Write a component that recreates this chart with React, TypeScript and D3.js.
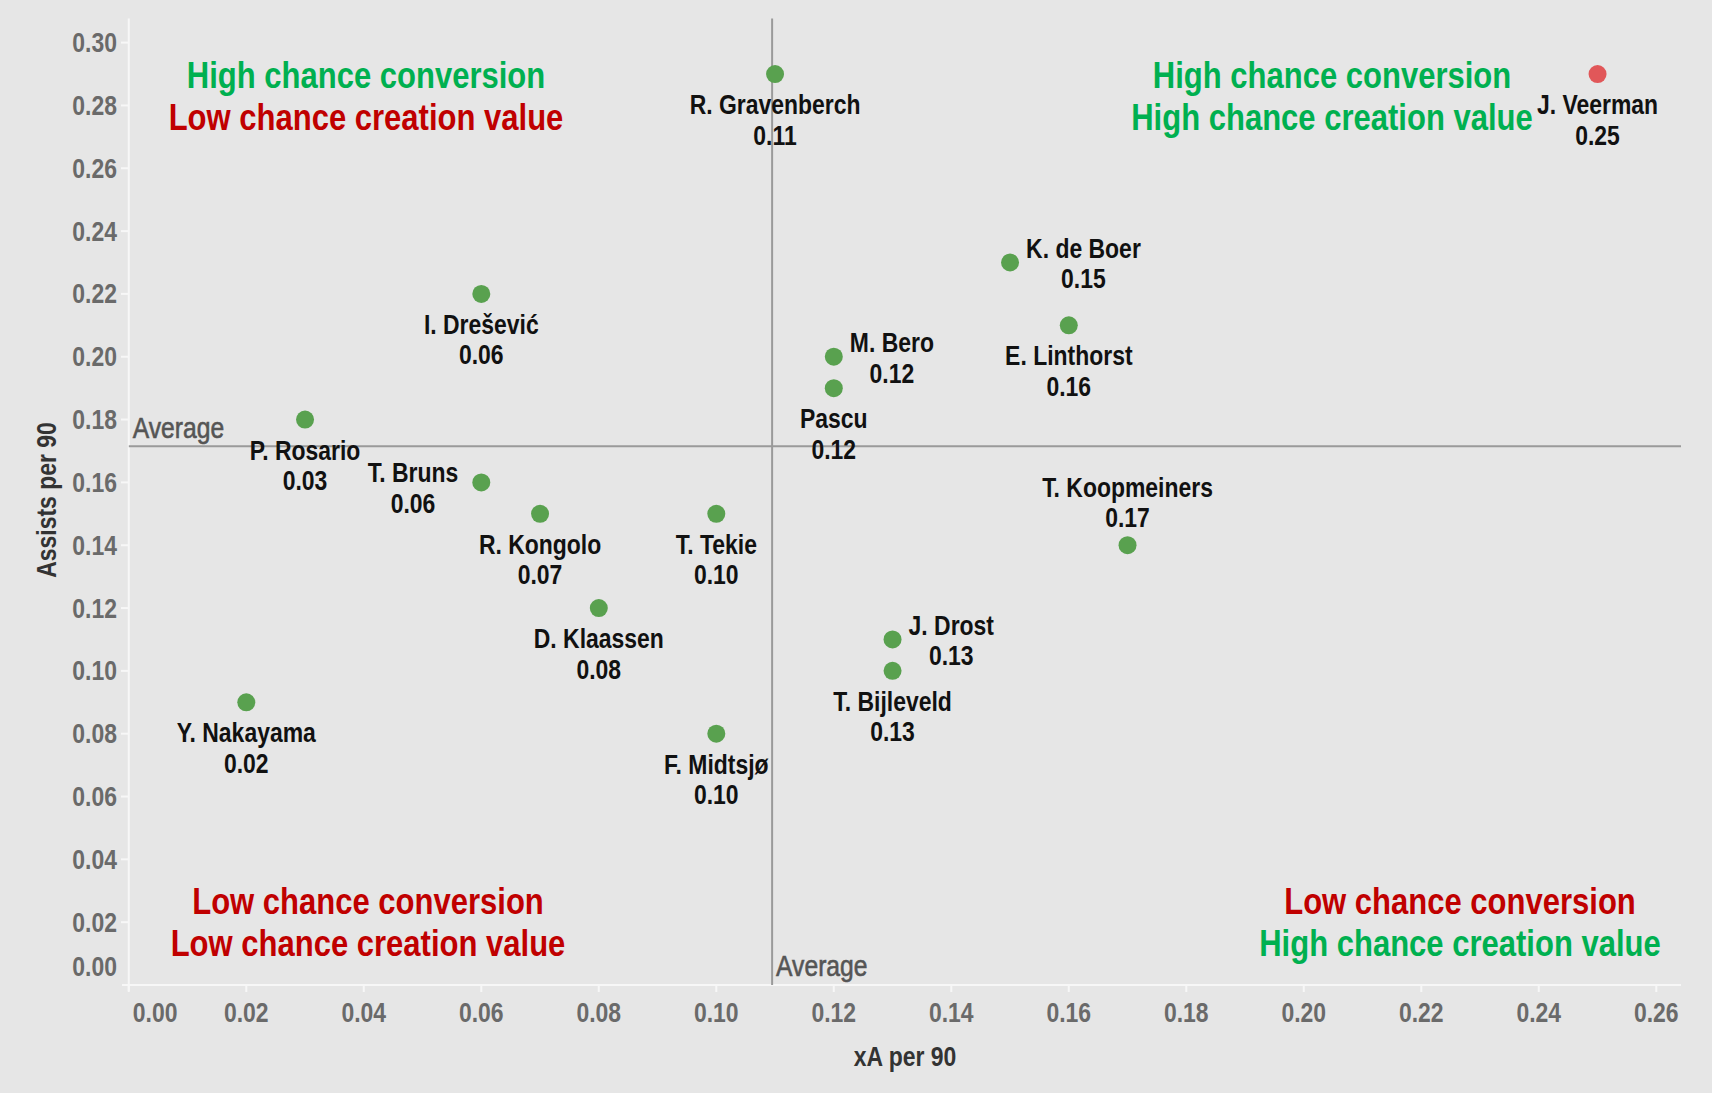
import React, { useEffect, useRef } from "react";
import * as d3 from "d3";

const players = ["R. Gravenberch", "J. Veerman", "K. de Boer", "I. Drešević", "E. Linthorst", "M. Bero", "Pascu", "P. Rosario", "T. Bruns", "R. Kongolo", "T. Tekie", "T. Koopmeiners", "D. Klaassen", "J. Drost", "T. Bijleveld", "Y. Nakayama", "F. Midtsjø"];
const xAPer90 = [0.11, 0.25, 0.15, 0.06, 0.16, 0.12, 0.12, 0.03, 0.06, 0.07, 0.10, 0.17, 0.08, 0.13, 0.13, 0.02, 0.10];
const assistsPer90 = [0.29, 0.29, 0.23, 0.22, 0.21, 0.20, 0.19, 0.18, 0.16, 0.15, 0.15, 0.14, 0.12, 0.11, 0.10, 0.09, 0.08];
const highlighted = ["J. Veerman"];
const labelSide: Record<string, string> = {
  "K. de Boer": "right",
  "M. Bero": "right",
  "J. Drost": "right",
  "T. Bruns": "left",
  "T. Koopmeiners": "above",
};
const xTicks = [0, 0.02, 0.04, 0.06, 0.08, 0.1, 0.12, 0.14, 0.16, 0.18, 0.2, 0.22, 0.24, 0.26];
const yTicks = [0, 0.02, 0.04, 0.06, 0.08, 0.1, 0.12, 0.14, 0.16, 0.18, 0.2, 0.22, 0.24, 0.26, 0.28, 0.3];
const avgXA = 0.1095;
const avgAssists = 0.1715;
const quadrants = [
  { key: "tl", lines: [["High chance conversion", "g"], ["Low chance creation value", "r"]] },
  { key: "tr", lines: [["High chance conversion", "g"], ["High chance creation value", "g"]] },
  { key: "bl", lines: [["Low chance conversion", "r"], ["Low chance creation value", "r"]] },
  { key: "br", lines: [["Low chance conversion", "r"], ["High chance creation value", "g"]] },
];

const W = 1712;
const H = 1093;
const FONT = "'Liberation Sans', Arial, sans-serif";
const SX = 0.85; // condensed look

export default function App() {
  const ref = useRef<SVGSVGElement | null>(null);

  useEffect(() => {
    const svg = d3.select(ref.current);
    svg.selectAll("*").remove();

    const left = 128.8, right = 1681, top = 18.6, bottom = 985;
    const x = d3.scaleLinear().domain([0, 0.26]).range([left, 1656.3]);
    const y = d3.scaleLinear().domain([0, 0.3]).range([bottom, 42.6]);

    const addText = (
      parent: any, tx: number, ty: number, str: string,
      opts: { size: number; weight?: string; fill: string; anchor?: string; rotate?: number; stroke?: number }
    ) => {
      const t = parent.append("text")
        .attr("transform", `translate(${tx},${ty})${opts.rotate ? ` rotate(${opts.rotate})` : ""} scale(${SX},1)`)
        .attr("dy", "0.35em")
        .attr("text-anchor", opts.anchor || "middle")
        .attr("font-family", FONT)
        .attr("font-weight", opts.weight || "bold")
        .attr("font-size", opts.size)
        .attr("fill", opts.fill)
        .text(str);
      if (opts.stroke) t.attr("stroke", opts.fill).attr("stroke-width", opts.stroke);
      return t;
    };

    svg.append("rect").attr("width", W).attr("height", H).attr("fill", "#e6e6e6");

    // axes lines
    svg.append("line").attr("x1", left).attr("x2", left).attr("y1", top).attr("y2", bottom + 6)
      .attr("stroke", "#f7f7f7").attr("stroke-width", 2);
    svg.append("line").attr("x1", 122).attr("x2", right).attr("y1", bottom).attr("y2", bottom)
      .attr("stroke", "#f7f7f7").attr("stroke-width", 2);

    // y ticks
    const yg = svg.append("g");
    yg.selectAll("line").data(yTicks.filter((t) => t > 0)).join("line")
      .attr("x1", 121).attr("x2", left).attr("y1", (d) => y(d)).attr("y2", (d) => y(d))
      .attr("stroke", "#f7f7f7").attr("stroke-width", 2);
    yTicks.forEach((d) => {
      addText(yg, 117, d === 0 ? y(d) - 18 : y(d), d3.format(".2f")(d), { size: 27, fill: "#6a6a6a", anchor: "end" });
    });

    // x ticks
    const xg = svg.append("g");
    xg.selectAll("line").data(xTicks).join("line")
      .attr("x1", (d) => x(d)).attr("x2", (d) => x(d)).attr("y1", bottom).attr("y2", bottom + 7)
      .attr("stroke", "#f7f7f7").attr("stroke-width", 2);
    xTicks.forEach((d) => {
      addText(xg, d === 0 ? x(d) + 4 : x(d), 1013, d3.format(".2f")(d), {
        size: 27, fill: "#6a6a6a", anchor: d === 0 ? "start" : "middle",
      });
    });

    // axis titles
    addText(svg, 905, 1057, "xA per 90", { size: 27, fill: "#333" });
    addText(svg, 47, 500, "Assists per 90", { size: 27, fill: "#333", rotate: -90 });

    // average lines
    svg.append("line").attr("x1", x(avgXA)).attr("x2", x(avgXA)).attr("y1", top).attr("y2", bottom)
      .attr("stroke", "#9a9a9a").attr("stroke-width", 2);
    svg.append("line").attr("x1", left).attr("x2", right).attr("y1", y(avgAssists)).attr("y2", y(avgAssists))
      .attr("stroke", "#9a9a9a").attr("stroke-width", 2);
    addText(svg, left + 4, y(avgAssists) - 18, "Average", { size: 29, weight: "normal", fill: "#555", anchor: "start", stroke: 0.6 });
    addText(svg, x(avgXA) + 4, bottom - 19, "Average", { size: 29, weight: "normal", fill: "#555", anchor: "start", stroke: 0.6 });

    // quadrant texts
    const qPos: Record<string, [number, number]> = {
      tl: [366, 75], tr: [1332, 75], bl: [368, 901], br: [1460, 901],
    };
    const qg = svg.append("g");
    quadrants.forEach((q) => {
      q.lines.forEach((ln, i) => {
        const [cx, cy] = qPos[q.key];
        addText(qg, cx, cy + i * 42.5, ln[0], { size: 36.5, fill: ln[1] === "g" ? "#00b050" : "#c00000" });
      });
    });

    // points
    const data = players.map((p, i) => ({ name: p, xa: xAPer90[i], ast: assistsPer90[i] }));
    svg.append("g").selectAll("circle").data(data).join("circle")
      .attr("cx", (d) => x(d.xa)).attr("cy", (d) => y(d.ast)).attr("r", 9)
      .attr("fill", (d) => (highlighted.includes(d.name) ? "#e15759" : "#59a14f"));

    // labels
    const lg = svg.append("g");
    data.forEach((d) => {
      const side = labelSide[d.name] || "below";
      const px = x(d.xa), py = y(d.ast);
      const probe = lg.append("text").attr("font-family", FONT).attr("font-weight", "bold").attr("font-size", 27).text(d.name);
      const w = (probe.node() as SVGTextElement).getComputedTextLength() * SX;
      probe.remove();
      let cx = px, y1 = py + 30.6, y2 = py + 61.1;
      if (side === "right") { cx = px + 16 + w / 2; y1 = py - 14.2; y2 = py + 16.4; }
      if (side === "left") { cx = px - 23 - w / 2; y1 = py - 9.8; y2 = py + 20.7; }
      if (side === "above") { y1 = py - 57.9; y2 = py - 27.3; }
      addText(lg, cx, y1, d.name, { size: 27, fill: "#111" });
      addText(lg, cx, y2, d3.format(".2f")(d.xa), { size: 27, fill: "#111" });
    });
  }, []);

  return (
    <svg ref={ref} width={W} height={H} style={{ position: "absolute", left: 0, top: 0, display: "block" }} />
  );
}
